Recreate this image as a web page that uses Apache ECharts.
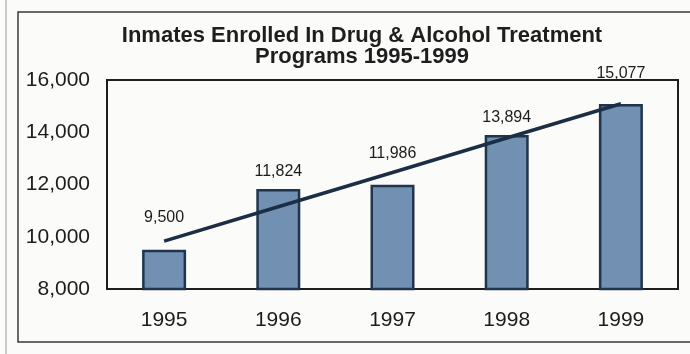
<!DOCTYPE html>
<html>
<head>
<meta charset="utf-8">
<title>Inmates Enrolled In Drug &amp; Alcohol Treatment Programs 1995-1999</title>
<script src="https://cdn.jsdelivr.net/npm/echarts@6/dist/echarts.min.js"></script>
<style>
  html, body { margin: 0; padding: 0; background: #fbfbfa; }
  #chart { width: 690px; height: 354px; }
</style>
</head>
<body>
<div id="chart"></div>
<script>
// Enrolment by year
const years = ['1995', '1996', '1997', '1998', '1999'];
const enrolled = [9500, 11824, 11986, 13894, 15077];
// Straight trend line drawn across the bars
const trend = [9830, 11150, 12460, 13780, 15090];
// Value axis ticks
const yMin = 8000;
const yMax = 16000;
const yStep = 2000;
// How far each value label sits above its bar
const labelGap = [24, 10, 23, 9, 23];

const FONT = '"Liberation Sans", Arial, sans-serif';
const INK = '#1c1c1c';

const chart = echarts.init(document.getElementById('chart'), null, { renderer: 'canvas' });

chart.setOption({
  backgroundColor: '#fbfbfa',
  animation: false,
  title: {
    text: 'Inmates Enrolled In Drug & Alcohol Treatment\nPrograms 1995-1999',
    left: 357,
    top: 20,
    textAlign: 'center',
    textStyle: {
      fontFamily: FONT,
      fontSize: 22,
      fontWeight: 'bold',
      color: '#1e1e1e',
      lineHeight: 21
    }
  },
  graphic: [
    { type: 'line', shape: { x1: 6, y1: 0, x2: 6, y2: 354 }, style: { stroke: '#b8b8b8', lineWidth: 1.5 }, silent: true },
    { type: 'rect', shape: { x: 18, y: 12, width: 700, height: 330 }, style: { fill: 'none', stroke: '#3a3a3a', lineWidth: 1.5 }, silent: true }
  ],
  grid: {
    left: 107,
    right: 12,
    top: 80,
    bottom: 65,
    show: true,
    borderColor: '#1e1e1e',
    borderWidth: 2,
    backgroundColor: 'transparent'
  },
  xAxis: {
    type: 'category',
    data: years,
    boundaryGap: true,
    axisLine: { show: true, lineStyle: { color: '#1e1e1e', width: 2 } },
    axisTick: { show: false },
    axisLabel: { margin: 21, fontFamily: FONT, fontSize: 21, color: INK }
  },
  yAxis: {
    type: 'value',
    min: yMin,
    max: yMax,
    interval: yStep,
    splitLine: { show: false },
    axisLine: { show: true, lineStyle: { color: '#1e1e1e', width: 2 } },
    axisTick: { show: false },
    axisLabel: {
      margin: 17,
      fontFamily: FONT,
      fontSize: 21,
      color: INK,
      formatter: v => v.toLocaleString('en-US')
    }
  },
  series: [
    {
      type: 'bar',
      data: enrolled.map((v, i) => ({
        value: v,
        label: { distance: labelGap[i] }
      })),
      barWidth: 44,
      itemStyle: {
        color: '#7190b2',
        borderColor: '#1f354d',
        borderWidth: 2.5
      },
      label: {
        show: true,
        position: 'top',
        fontFamily: FONT,
        fontSize: 16,
        color: INK,
        formatter: p => p.value.toLocaleString('en-US')
      },
      z: 2
    },
    {
      type: 'line',
      data: trend,
      symbol: 'none',
      lineStyle: { color: '#1c2e44', width: 3.5 },
      z: 3
    }
  ]
});
</script>
</body>
</html>
